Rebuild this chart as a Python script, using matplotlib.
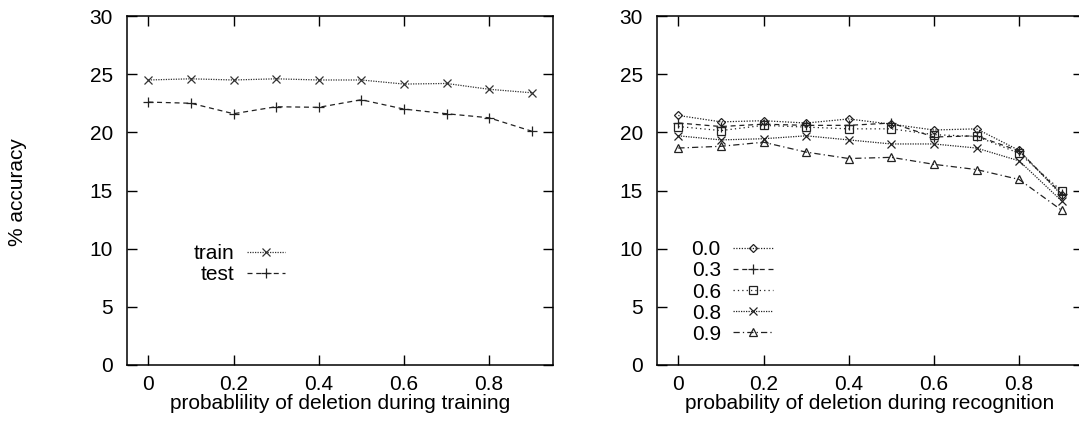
import numpy as np
import matplotlib
matplotlib.use('Agg')
import matplotlib.pyplot as plt

plt.rcParams['font.family'] = ['Liberation Sans', 'DejaVu Sans']
plt.rcParams['font.size'] = 15

# deletion probabilities (x axis, both panels)
p_del = [0.0, 0.1, 0.2, 0.3, 0.4, 0.5, 0.6, 0.7, 0.8, 0.9]

# left panel: deletion during training
train_acc = [24.5, 24.6, 24.5, 24.6, 24.5, 24.5, 24.15, 24.2, 23.7, 23.4]
test_acc = [22.6, 22.5, 21.6, 22.2, 22.15, 22.8, 22.0, 21.6, 21.25, 20.1]

# right panel: deletion during recognition, one series per training deletion prob
series_labels = ['0.0', '0.3', '0.6', '0.8', '0.9']
acc_00 = [21.45, 20.9, 21.0, 20.8, 21.15, 20.7, 20.2, 20.3, 18.45, 14.6]
acc_03 = [20.8, 20.5, 20.7, 20.6, 20.6, 20.8, 19.6, 19.7, 18.4, 14.7]
acc_06 = [20.5, 20.15, 20.6, 20.45, 20.3, 20.3, 19.8, 19.65, 18.2, 14.95]
acc_08 = [19.7, 19.35, 19.45, 19.7, 19.35, 19.0, 19.0, 18.65, 17.55, 14.1]
acc_09 = [18.65, 18.8, 19.15, 18.3, 17.75, 17.85, 17.25, 16.8, 15.95, 13.3]

x_ticks = [0, 0.2, 0.4, 0.6, 0.8]
x_ticklabels = ['0', '0.2', '0.4', '0.6', '0.8']
y_ticks = [0, 5, 10, 15, 20, 25, 30]

fig = plt.figure(figsize=(10.79, 4.21), dpi=100)
ax1 = fig.add_axes([127 / 1079, 56 / 421, 426 / 1079, 349 / 421])
ax2 = fig.add_axes([657 / 1079, 56 / 421, 426 / 1079, 349 / 421])

lw = 0.9
ms = 6
ax1.plot(p_del, train_acc, color='#333333', lw=lw, ls=(0, (1, 1)), marker='x', ms=ms, mew=0.9, label='train')
ax1.plot(p_del, test_acc, color='#222222', lw=lw, ls=(0, (4, 3)), marker='+', ms=ms + 1, mew=0.9, label='test')

styles = [
    dict(ls=(0, (1, 1.2)), marker='D', ms=4.5),
    dict(ls=(0, (4, 3)), marker='+', ms=6.5),
    dict(ls=(0, (1, 2.5)), marker='s', ms=5.5),
    dict(ls=(0, (1, 1)), marker='x', ms=6),
    dict(ls=(0, (5, 2.5, 1, 2.5)), marker='^', ms=5.5),
]
for label, vals, st in zip(series_labels, [acc_00, acc_03, acc_06, acc_08, acc_09], styles):
    ax2.plot(p_del, vals, color='#222222', lw=lw, ls=st['ls'], marker=st['marker'],
             ms=st['ms'], mew=0.9, mfc='none', label=label)

for ax in (ax1, ax2):
    ax.set_xlim(-0.05, 0.95)
    ax.set_ylim(0, 30)
    ax.set_xticks(x_ticks)
    ax.set_xticklabels(x_ticklabels)
    ax.set_yticks(y_ticks)
    ax.tick_params(direction='in', length=7, width=1, top=True, right=True)
    ax.tick_params(axis='y', pad=10)
    ax.tick_params(axis='x', pad=7)
    for sp in ax.spines.values():
        sp.set_linewidth(1.1)

ax1.set_xlabel('probablility of deletion during training', labelpad=0)
ax2.set_xlabel('probability of deletion during recognition', labelpad=0)
fig.text(18 / 1079, 1 - 192 / 421, '% accuracy', rotation=90, ha='center', va='center', fontsize=15)

ax1.legend(loc='upper right', bbox_to_anchor=(0.371, 0.347), frameon=False, markerfirst=False,
           handlelength=1.85, handletextpad=0.6, labelspacing=0.1, borderpad=0, borderaxespad=0)
ax2.legend(loc='upper right', bbox_to_anchor=(0.272, 0.357), frameon=False, markerfirst=False,
           handlelength=1.9, handletextpad=0.6, labelspacing=0.1, borderpad=0, borderaxespad=0)

fig.savefig('out.png', dpi=100)
